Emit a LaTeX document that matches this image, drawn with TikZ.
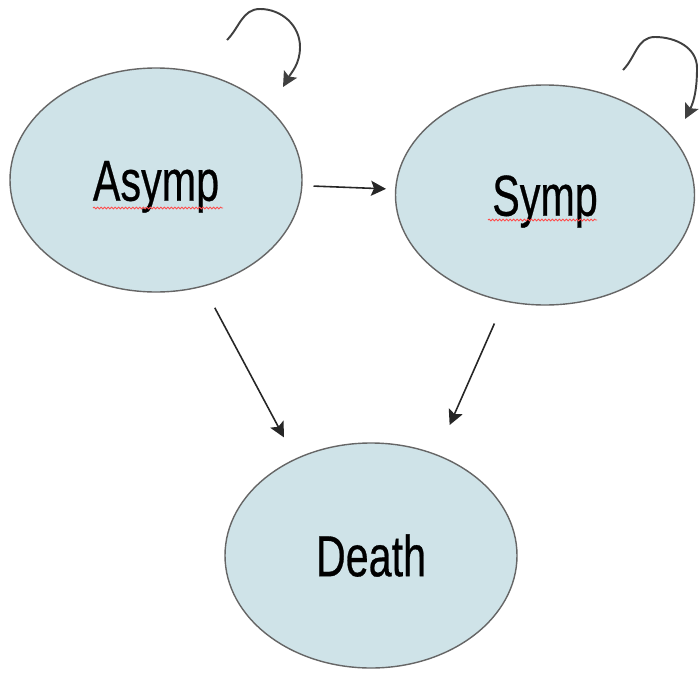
\documentclass[tikz,border=0pt]{standalone}
\usepackage{fontspec}
\setmainfont{Liberation Sans}
\newfontfamily\statefont[FakeBold=0.6]{Liberation Sans}
\usepackage{graphicx}
\usetikzlibrary{shapes.geometric,arrows.meta,decorations.pathmorphing}
\definecolor{statefill}{RGB}{207,227,232}
\begin{document}
\begin{tikzpicture}[
  state/.style={ellipse, draw=black!60, line width=0.8pt, fill=statefill, inner sep=0pt,
    text height=23.6pt, text depth=0pt, font=\statefont\fontsize{23.5}{28}\selectfont},
  trans/.style={-{Stealth[length=3mm,width=3mm,inset=0.6mm]}, line width=0.9pt, draw=black!85},
  selfloop/.style={trans, draw=black!75, line width=1.1pt},
  spell/.style={red!70, line width=0.5pt, decorate, decoration={snake, amplitude=0.5pt, segment length=2pt}}]
  \useasboundingbox (0,0) rectangle (13.98,13.44);
  \node[state, minimum width=5.84cm, minimum height=4.48cm] (asymp) at (3.12,9.84) {\scalebox{1}[1.4]{Asymp}};
  \node[state, minimum width=5.98cm, minimum height=4.4cm] (symp) at (10.9,9.54) {\scalebox{1}[1.4]{Symp}};
  \node[state, minimum width=5.84cm, minimum height=4.5cm] (death) at (7.42,2.33) {\scalebox{1}[1.4]{Death}};
  \coordinate (aloopS) at (4.54,12.64);
  \coordinate (aloopT) at (5.2,13.26);
  \coordinate (aloopR) at (6.0,12.5);
  \coordinate (aloopE) at (5.66,11.7);
  \coordinate (sloopS) at (12.46,12.04);
  \coordinate (sloopT) at (13.1,12.7);
  \coordinate (sloopR) at (13.94,12.08);
  \coordinate (sloopE) at (13.7,11.06);
  \draw [trans, shorten <=0.22cm, shorten >=0.18cm] (asymp) -- (symp);
  \draw [trans, shorten <=0.48cm, shorten >=0.48cm] (asymp.-66) -- (death.128);
  \draw [trans, shorten <=0.48cm, shorten >=0.64cm] (symp.-111) -- (death.57);
  \draw [selfloop] (aloopS) to[out=45,in=180] (aloopT) to[out=0,in=90] (aloopR) to[out=-90,in=60] (aloopE);
  \draw [selfloop] (sloopS) to[out=45,in=180] (sloopT) to[out=0,in=90] (sloopR) to[out=-90,in=63] (sloopE);
  \draw [spell] (1.86,9.28) -- (4.46,9.28);
  \draw [spell] (9.76,9.04) -- (11.94,9.04);
\end{tikzpicture}
\end{document}
